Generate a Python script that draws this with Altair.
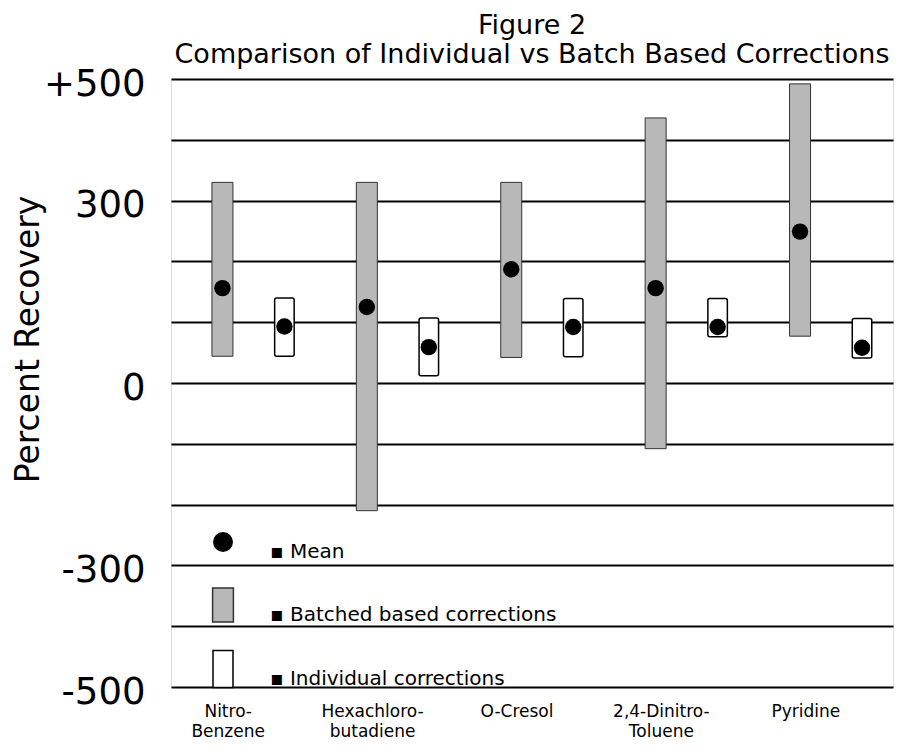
import json
import altair as alt
import pandas as pd

# ---------------- data ----------------
compounds = ["Nitro-\nBenzene", "Hexachloro-\nbutadiene", "O-Cresol",
             "2,4-Dinitro-\nToluene", "Pyridine"]
kinds = ["Batched based corrections", "Individual corrections"]
legend_items = ["Mean", "Batched based corrections", "Individual corrections"]

batch_low = [44, -210, 42, -108, 77]
batch_high = [330, 330, 330, 436, 492]
batch_mean = [156, 125, 187, 156, 249]

indiv_low = [44, 12, 43, 76, 41]
indiv_high = [140, 107, 139, 139, 106]
indiv_mean = [93, 59, 92, 92, 58]

y_grid_values = list(range(-500, 501, 100))
y_label_values = [500, 300, 0, -300, -500]

# ---------------- tables ----------------
rows = []
for i, c in enumerate(compounds):
    rows.append({"compound": c, "kind": kinds[0], "low": batch_low[i],
                 "high": batch_high[i], "mean": batch_mean[i]})
    rows.append({"compound": c, "kind": kinds[1], "low": indiv_low[i],
                 "high": indiv_high[i], "mean": indiv_mean[i]})
df = pd.DataFrame(rows)
legend_df = pd.DataFrame({"item": legend_items})

FONT = "DejaVu Sans"
BATCH_FILL = "#b8b8b8"

x_enc = alt.X(
    "compound:N",
    sort=compounds,
    scale=alt.Scale(paddingInner=0, paddingOuter=0),
    axis=alt.Axis(
        title=None, ticks=False, domain=False, grid=False,
        labelAngle=0, labelFont=FONT, labelFontSize=17, labelColor="black",
        labelBaseline="top", labelPadding=16, labelLineHeight=20,
        labelOffset=-15,
        labelExpr="split(datum.label, '\\n')",
    ),
)
xoff_enc = alt.XOffset(
    "kind:N",
    sort=kinds,
    scale=alt.Scale(domain=kinds, paddingInner=0, paddingOuter=0.165, align=1),
)

label_expr = (
    "indexof(" + json.dumps(y_label_values) + ", datum.value) >= 0 ? "
    "(datum.value == 500 ? '+500' : (datum.value < 0 ? '-' + abs(datum.value) : '' + datum.value)) : ''"
)
y_axis = alt.Axis(
    values=y_grid_values,
    title="Percent Recovery",
    titleFont=FONT, titleFontSize=33, titleFontWeight="normal", titleColor="black",
    titleAngle=270, titleAlign="center", titleBaseline="middle",
    titleX=-143, titleY=260,
    labelExpr=label_expr,
    labelFont=FONT, labelFontSize=37, labelColor="black",
    labelPadding=26, labelOffset=5, labelFlush=False, labelOverlap=False,
    labelBound=False,
    ticks=False, domain=False,
    grid=True, gridColor="black", gridWidth=2, gridOpacity=1,
)
y_scale = alt.Scale(domain=[-500, 500], nice=False, zero=False)

base = alt.Chart(df)

batch_bars = base.transform_filter(
    alt.datum.kind == kinds[0]
).mark_bar(width=21, fill=BATCH_FILL, stroke="#333333", strokeWidth=1).encode(
    x=x_enc, xOffset=xoff_enc,
    y=alt.Y("low:Q", scale=y_scale, axis=y_axis),
    y2="high:Q",
)

indiv_bars = base.transform_filter(
    alt.datum.kind == kinds[1]
).mark_bar(width=19.5, fill="white", stroke="black", strokeWidth=1.5,
           cornerRadius=2).encode(
    x=x_enc, xOffset=xoff_enc,
    y=alt.Y("low:Q", scale=y_scale, axis=y_axis),
    y2="high:Q",
)

means = base.mark_point(filled=True, color="black", size=270, opacity=1).encode(
    x=x_enc, xOffset=xoff_enc,
    y=alt.Y("mean:Q", scale=y_scale, axis=y_axis),
)

# legend (Vega-Lite's own legend, placed inside the plot)
circle_path = "M-0.46,0A0.46,0.46,0,1,0,0.46,0A0.46,0.46,0,1,0,-0.46,0Z"
batch_path = "M-0.52,-0.85H0.52V0.85H-0.52Z"
indiv_path = "M-0.5,-0.92H0.5V0.92H-0.5Z"

leg = alt.Legend(
    title=None, orient="none", legendX=31, legendY=442, direction="vertical",
    symbolSize=1600, rowPadding=22, padding=0,
    symbolStrokeWidth=1.5, symbolOpacity=1, symbolFillColor="white",
    symbolStrokeColor="black",
    labelFont=FONT, labelFontSize=20, labelColor="black", labelLimit=500,
    labelOffset=26, labelBaseline="top",
    labelExpr="'\u25aa ' + datum.label",
)
legend_layer = alt.Chart(legend_df).mark_point(filled=True, opacity=0, strokeWidth=1.5).encode(
    shape=alt.Shape("item:N", sort=legend_items,
                    scale=alt.Scale(domain=legend_items,
                                    range=[circle_path, batch_path, indiv_path]),
                    legend=leg),
    fill=alt.Fill("item:N", sort=legend_items,
                  scale=alt.Scale(domain=legend_items,
                                  range=["black", BATCH_FILL, "white"]),
                  legend=leg),
    stroke=alt.Stroke("item:N", sort=legend_items,
                      scale=alt.Scale(domain=legend_items,
                                      range=["black", "#333333", "black"]),
                      legend=leg),
)

chart = alt.layer(batch_bars, indiv_bars, means, legend_layer).properties(
    width=722,
    height=608,
    autosize=alt.AutoSizeParams(type="none"),
    padding={"left": 163, "top": 71, "right": 14, "bottom": 54},
    title=alt.TitleParams(
        ["Figure 2", "Comparison of Individual vs Batch Based Corrections"],
        font=FONT, fontSize=27, fontWeight="normal", color="black",
        lineHeight=29, anchor="middle", frame="group", offset=-4,
    ),
).configure_view(
    stroke="black", strokeWidth=1.5,
).configure(background="white")

chart.save("out.html", embed_options={"renderer": "svg", "actions": False})
